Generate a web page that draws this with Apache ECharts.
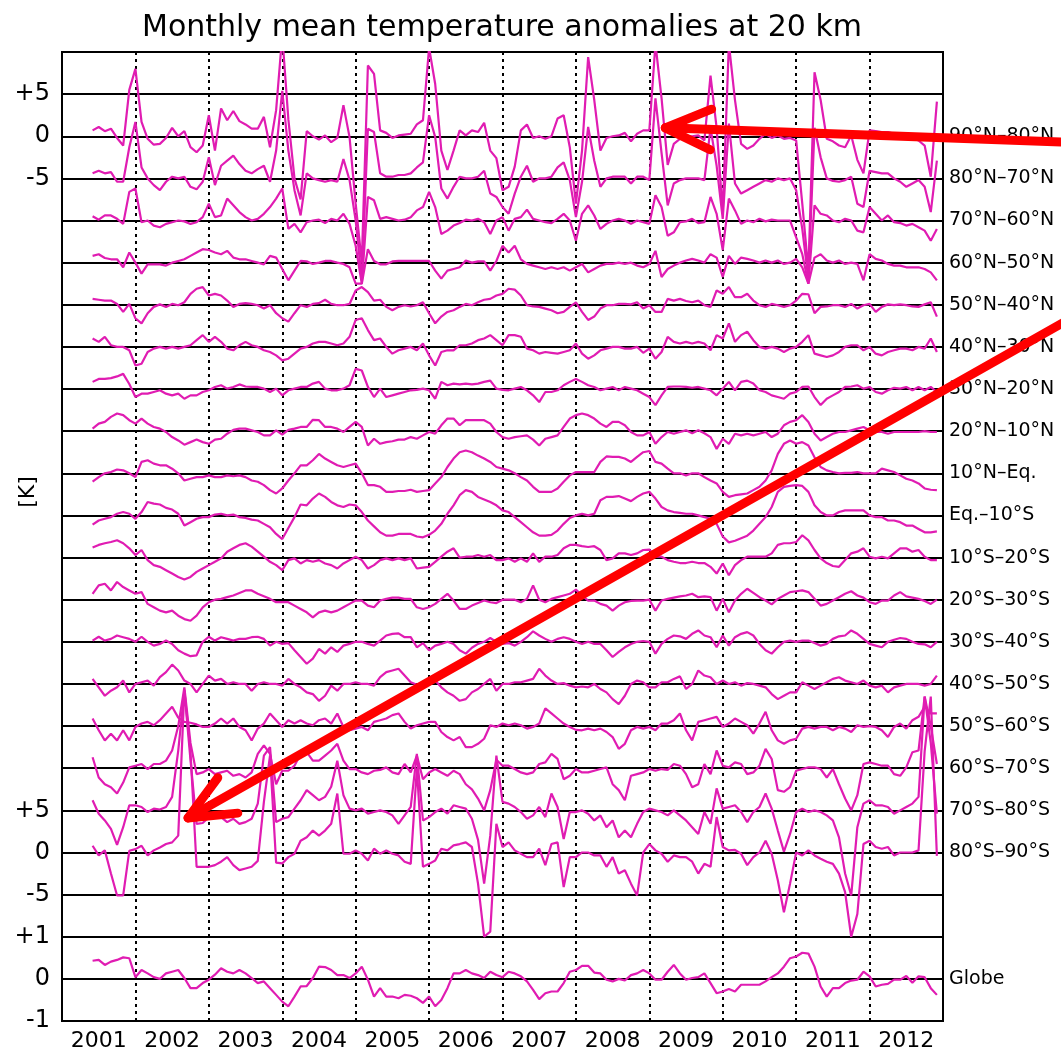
<!DOCTYPE html>
<html>
<head>
<meta charset="utf-8">
<script src="https://cdn.jsdelivr.net/npm/echarts@6/dist/echarts.min.js"></script>
<style>
html, body { margin: 0; padding: 0; background: #fff; }
#chart { width: 1061px; height: 1052px; }
</style>
</head>
<body>
<div id="chart"></div>
<script>
// latitude bands, top to bottom
const bandNames = ['90°N–80°N', '80°N–70°N', '70°N–60°N', '60°N–50°N', '50°N–40°N', '40°N–30°N',
  '30°N–20°N', '20°N–10°N', '10°N–Eq.', 'Eq.–10°S', '10°S–20°S', '20°S–30°S', '30°S–40°S',
  '40°S–50°S', '50°S–60°S', '60°S–70°S', '70°S–80°S', '80°S–90°S'];
const years = ['2001', '2002', '2003', '2004', '2005', '2006', '2007', '2008', '2009', '2010', '2011', '2012'];
// first month with data: June 2001 (months counted from Jan 2001 = 0)
const firstMonth = 5;

// monthly anomalies [K], Jun 2001 .. Dec 2012
const n90_80 = [0.7, 1.1, 0.6, 0.9, -0.2, -1.1, 5.5,
  8.0, 1.7, -0.3, -1.0, -0.9, -0.2, 1.0, 0, 0.6, -1.3, -1.9, -1.1,
  2.5, -1.7, 3.3, 1.9, 3.0, 1.8, 1.4, 0.9, 0.9, 2.3, -1.3, 3.1,
  12, 2, -5, -7.5, 0.6, 0, -0.4, 0.1, -0.7, -0.2, 3.7, -0.1,
  -8, -15, 8.4, 7.4, 0.7, 0.4, -0.2, 0.1, 0.2, 0.3, 1.4, 1.9,
  10.5, 6.2, -1.7, -4.0, -1.7, 0.7, 0.1, 0.7, 0.5, 1.6, -1.7, -2.6,
  -6.4, -6.0, -3.6, 0.7, 1.4, -0.2, 0, -0.3, 0, 2.1, 2.5, -1.3,
  -8, -1.7, 9.4, 4.3, -1.7, -0.2, 0, 0.1, 0.4, -0.6, 0.3, 0.7,
  0.7, 11, 4.5, -3.4, -0.9, -0.3, 0, 0, 0.1, -0.5, 7.2, 1.0,
  -9, 11, 4.3, -0.9, -1.5, -1.1, -0.3, 0.3, -0.2, 0.1, -0.3, -0.2,
  -0.5, -8, -16, 7.6, 4.3, -0.3, -0.6, -1.1, -1.3, 0.1, -2.8, -4.4,
  0.7, 0.6, 0.5, 0.5, 0.3, 0, 0.1, 0, -0.5, -1.1, -4.8, 4.1];
const n80_70 = [0.6, 0.9, 0.6, 0.75, -0.4, -0.4, 3.7,
  6.7, 1.3, 0, -0.8, -1.4, -0.4, 0.2, 0, 0.2, -1.0, -1.3, -0.4,
  2.5, -0.8, 1.5, 2.1, 2.7, 1.7, 0.9, 0.6, 1.1, 1.5, -0.4, 3.3,
  10.4, 3.3, -1.4, -4.4, 0.6, 0, -0.2, -0.4, -0.2, -0.4, 2.3, -0.2,
  -5, -12, 5.9, 5.5, 0.6, 0.2, 0.2, 0.4, 0.4, 0.6, 1.3, 1.9,
  7.5, 4.9, -1.2, -2.4, -1.0, 0.2, 0, 0, 0.2, 0.9, -1.8, -2.2,
  -3.4, -4.2, -1.8, 0.2, 1.5, -0.4, 0, 0, 0.2, 1.3, 1.9, -0.2,
  -4.6, -0.4, 6.1, 2.1, -1.0, 0, 0.2, 0.2, 0.2, -0.6, 0.2, 0.2,
  -0.2, 9.5, 3, -3.2, -0.6, -0.2, 0, 0, 0, -0.2, 6, 1.5,
  -4.8, 6.5, -0.6, -1.8, -1.4, -1.0, -0.6, -0.2, -0.4, 0, -0.2, 0,
  -1.4, -6, -12, 6, 2.5, 0, -0.3, -0.4, -0.2, 0.2, -3.0, -3.4,
  0.9, 0.75, 0.6, 0.6, 0, -0.4, -1.0, -0.6, -0.2, -1.0, -4.0, 2.1];
const n70_60 = [0.5, 0.1, 0.6, 0.6, 0.2, -0.4, 3.4,
  3.8, -0.2, 0, -0.6, -0.8, -0.4, -0.2, 0, -0.1, -0.4, -0.2, 0.4,
  2.0, 0.4, 0.6, 2.6, 1.8, 1.0, 0.4, 0, 0.2, 0.8, 1.6, 2.6,
  3.8, -1.0, -0.4, -1.4, -0.2, 0, 0.1, -0.3, 0.2, 0, 0.8, -0.4,
  -3, -7.5, 2.8, 2.4, 0.2, 0.4, 0.2, 0, 0.1, 0.4, 1.2, 1.6,
  3.4, 1.6, -1.6, -1.2, -0.6, -0.3, 0.1, 0, 0.2, -0.2, -1.6, 0,
  0.4, -1.2, 0.2, 0.4, 1.3, 0.2, 0, -0.2, -0.3, 0.2, 0.8, 0,
  -2.4, 0.8, 1.8, 0.6, -1.0, -0.4, 0, 0.2, 0, -0.4, 0, -0.2,
  -0.4, 3, 1.6, -1.8, -1.4, -0.2, -0.1, 0.2, -0.3, -0.2, 2.8, 0.8,
  -3.5, 2.6, 1.2, -0.4, 0, -0.2, 0.2, -0.1, 0.1, 0, 0, 0,
  -2.0, -4, -7.5, 1.8, 0.8, 0.6, 0, -0.2, 0.2, 0, -1.2, -1.4,
  1.6, 0.8, 0, 0.6, -0.2, -0.3, -0.6, -0.4, -0.8, -1.2, -2.4, -1.0];
const n60_50 = [0.8, 1.0, 0.55, 0.4, 0.4, -0.55, 1.2,
  0, -1.3, -0.2, -0.2, -0.2, -0.35, 0, 0.2, 0.4, 0.8, 1.2, 1.6,
  1.5, 1.2, 1.0, 1.4, 0.6, 0.4, 0.4, 0.2, 0, -0.2, 0.8, 0.6,
  -0.75, -2.1, -0.95, 0.2, 0.15, -0.15, 0, 0.2, 0.2, 0, -0.15, -0.55,
  -2.5, -2.5, 1.6, 0.2, -0.2, -0.2, 0.15, 0.2, 0.2, 0.2, 0.2, 0.2,
  0.2, -0.95, -1.9, -0.95, -0.75, -0.55, 0.25, 0, 0.15, 0.15, -0.95, 0.2,
  2.0, 1.2, 2.0, 0.4, -0.15, -0.35, -0.55, -0.75, -0.55, -0.75, -0.55, -0.95,
  -0.55, -0.15, -1.15, -0.75, -0.35, -0.15, -0.15, 0, -0.15, 0, -0.35, -0.55,
  -0.15, 1.4, -1.7, -0.75, -0.35, 0, 0.25, 0.45, 0.25, 0, 1.0, 0.6,
  -1.7, 0.8, -0.15, 0.6, 0.45, 0.25, 0, 0.25, 0, 0.25, -0.15, 0,
  0.45, -0.55, -2.5, 0.6, 1.0, 0.25, 0, 0.25, -0.15, 0, -0.15, -2.1,
  1.0, 0.45, 0.25, -0.15, -0.35, -0.35, -0.55, -0.55, -0.55, -0.75, -1.15, -2.1];
const n50_40 = [0.7, 0.6, 0.5, 0.5, 0.1, -0.85, 0.1,
  -1.6, -2.2, -1.0, -0.25, 0.05, -0.25, 0.1, -0.05, 0.3, 1.3, 1.9, 2.1,
  1.1, 1.3, 1.1, 0.5, -0.25, 0.1, 0.2, 0.1, -0.05, -0.45, -0.05, -1.0,
  -1.6, -2.0, -1.0, -0.05, -0.25, 0.1, 0.2, 0.6, 0.1, -0.05, -0.05, 0.1,
  1.7, 2.1, 1.5, 0.5, 0.6, -0.25, -0.65, -0.25, -0.05, -0.2, -0.05, 0.3,
  -1.0, -2.2, -1.4, -0.85, -0.65, -0.25, 0.1, -0.05, 0.3, 0.6, 0.7, 1.1,
  1.3, 1.9, 1.8, 1.1, -0.05, -0.2, -0.25, -0.45, -0.65, -1.0, -0.85, -0.25,
  0.3, -0.85, -1.8, -1.4, -0.45, -0.05, -0.05, 0.1, 0.1, 0.05, 0.3, -0.45,
  -0.05, -0.85, -0.85, 0.7, 0.5, 0.7, 0.45, 0.3, 0.5, -0.05, -0.25, 1.7,
  1.3, 2.1, 0.9, 0.9, 1.3, 0.5, -0.05, -0.25, 0.1, -0.05, -0.25, -0.05,
  0.5, 1.3, 1.25, -1.0, -0.25, -0.2, -0.05, -0.05, -0.25, 0.1, -0.45, -0.05,
  0.1, -0.85, -0.25, 0.05, -0.05, 0.05, -0.05, -0.2, -0.25, 0.05, 0.3, -1.4];
const n40_30 = [1.0, 0.6, 1.2, 0.2, 0, 0, -0.4,
  -2.2, -2.0, -0.6, -0.2, 0, -0.2, 0, -0.2, 0, 0.2, 0.8, 1.4,
  0.6, 1.2, 0.6, -0.2, -0.4, 0.2, 0.6, 0.2, 0, -0.4, -0.6, -1.0,
  -1.6, -1.4, -0.8, -0.2, 0, 0.4, 0.6, 0.6, 0.4, 0.2, 0.4, 1.2,
  3.2, 3.4, 2.0, 0.8, 1.0, 0, -0.8, -0.4, -0.2, 0, -0.4, 0.4,
  -1.0, -2.2, -0.6, -0.4, -0.4, 0.2, 0.2, 0.4, 0.8, 1.0, 1.4, 0.8,
  0.2, 1.4, 1.4, 1.2, -0.2, -0.4, -0.8, -0.6, -0.7, -0.8, -0.6, -0.4,
  0.4, -0.8, -1.4, -1.0, -0.4, -0.2, 0, 0, -0.2, -0.2, 0, -0.7,
  -0.2, -1.4, -0.6, 1.2, 0.6, 0.4, 0.6, 0.4, 0.6, 0.4, -0.4, 1.4,
  1.0, 2.8, 0.6, 1.4, 1.8, 0.8, 0, -0.2, 0, -0.2, -0.6, -0.2,
  0, 0.6, 1.4, -0.8, -1.0, -1.2, -1.0, -0.6, 0, 0.2, 0.2, -0.4,
  0, -0.8, -1.0, -0.6, -0.4, -0.2, -0.2, -0.4, 0, -0.2, 1.0, -0.6];
const n30_20 = [0.85, 1.2, 1.2, 1.3, 1.5, 1.8, 0.6,
  -0.95, -0.55, -0.55, -0.35, -0.15, -0.55, -0.75, -0.55, -1.15, -0.75, -0.75, -0.35,
  -0.15, 0.25, 0.45, 0.05, 0.25, 0.55, 0.3, 0.25, 0.25, 0.05, -0.35, 0.05,
  -0.75, -0.15, 0.05, 0.25, 0.25, 0.65, 0.85, 0.05, -0.15, -0.15, 0.05, 0.45,
  2.4, 2.2, 0.25, -0.95, 0.05, -0.95, -0.75, -0.55, -0.35, -0.15, -0.1, 0.05,
  -0.15, -1.15, 0.85, 0.45, 0.65, 0.55, 0.65, 0.55, 0.65, 0.85, 1.0, 0.05,
  -0.1, -0.15, 0.05, 0.25, -0.15, -0.75, -1.55, -0.35, -0.35, -0.15, 0.45, 0.85,
  1.2, 0.85, 0.45, 0.25, -0.15, 0.05, 0.25, -0.15, 0.25, 0.05, -0.15, -0.55,
  -0.95, -1.9, -0.75, 0.25, 0.3, 0.3, 0.25, 0.15, 0.25, 0.05, -0.15, -0.75,
  0.05, 0.85, -0.15, 0.85, 1.0, 0.65, -0.15, -0.35, -0.75, -0.95, -1.15, -0.55,
  -0.35, 0.25, 0.3, -0.95, -1.9, -1.15, -0.75, -0.35, 0.25, 0.3, 0.45, 0.05,
  0.25, -0.35, -0.55, -0.15, 0.15, 0.05, 0.25, -0.15, 0.25, -0.15, 0.25, -0.35];
const n20_10 = [0.3, 0.9, 1.1, 1.7, 2.1, 1.9, 1.3,
  0.9, 1.5, 0.9, 0.5, 0.3, -0.1, -0.7, -1.1, -1.6, -1.3, -1.0, -1.3,
  -1.5, -1.0, -0.9, -0.3, 0.15, 0.3, 0.3, 0.1, -0.1, -0.5, -0.5, 0.1,
  -0.4, 0.15, 0.3, 0.5, 0.5, 1.35, 1.3, 0.5, 0.5, 0.3, -0.1, 0.5,
  1.1, 0.5, -1.7, -0.9, -1.5, -1.3, -1.2, -1.0, -1.0, -0.7, -0.9, -0.5,
  -0.1, -0.3, 0.7, 1.5, 1.5, 0.7, 1.3, 1.3, 1.3, 1.3, 0.9, -0.1,
  -0.7, -0.9, -0.7, -0.6, -0.5, -1.0, -1.7, -0.9, -0.7, -0.5, 0.5, 1.5,
  1.9, 2.1, 1.9, 1.5, 0.9, 0.5, 1.1, 1.1, 0.7, -0.1, -0.5, -0.5,
  -0.1, -1.5, -0.7, -0.1, -0.3, -0.1, 0.1, -0.25, 0.1, -0.25, -0.7, -2.1,
  -0.9, -1.5, -0.3, -0.5, -0.3, -0.5, -0.3, -0.1, -0.7, -0.3, 0.7, 1.1,
  1.3, 1.9, 1.1, -0.3, -1.1, -0.7, -0.3, -0.1, -0.1, 0.1, 0.3, 0.5,
  0.1, -0.1, -0.1, -0.3, -0.1, -0.1, -0.1, -0.1, -0.1, 0, -0.1, -0.1];
const n10_eq = [-1.0, -0.45, 0, 0.15, 0.45, 0.35, 0,
  -0.45, 1.35, 1.55, 1.15, 0.95, 0.95, 0.55, 0, -0.85, -0.65, -0.45, -0.45,
  -0.25, -0.45, -0.45, -0.25, -0.35, -0.25, -0.45, -0.85, -1.0, -1.4, -2.0, -2.4,
  -1.8, -0.85, 0, 0.95, 0.95, 1.55, 2.3, 1.75, 1.35, 0.95, 0.75, 0.95,
  1.15, 0, -1.4, -1.4, -1.6, -2.2, -2.2, -2.1, -2.1, -1.95, -2.2, -2.1,
  -2.0, -1.2, -0.45, 0.75, 1.75, 2.5, 2.7, 2.5, 2.1, 1.75, 1.35, 0.75,
  0.55, 0.35, 0, -0.45, -0.85, -1.6, -2.2, -2.2, -2.2, -1.8, -1.0, -0.25,
  0.15, 0.15, 0.15, 0.15, 1.35, 2.0, 1.95, 1.95, 1.75, 1.35, 1.95, 2.5,
  2.65, 1.35, 1.15, 0.55, 0, 0, -0.25, 0, 0, -0.45, -0.85, -1.2,
  -2.2, -2.8, -2.6, -2.5, -2.4, -2.0, -1.6, -0.85, 0.35, 2.3, 3.5, 3.9,
  3.5, 3.7, 3.3, 1.9, 0.75, 0.35, 0.15, 0, 0.05, 0.05, 0.15, 0,
  0, 0, 0.55, 0.35, 0.15, -0.25, -0.65, -0.85, -1.2, -1.8, -1.95, -2.0];
const eq_10s = [-1.1, -0.6, -0.4, -0.2, 0.2, 0.4, 0.2,
  -0.4, 0.4, 1.6, 1.4, 1.3, 0.9, 0.7, 0.2, -1.2, -0.8, -0.4, -0.2,
  -0.2, 0.1, 0.2, 0, 0.1, -0.2, -0.3, -0.5, -0.6, -1.0, -1.4, -2.2,
  -2.8, -1.5, -0.2, 1.3, 1.2, 2.0, 2.6, 2.2, 1.6, 1.2, 1.0, 1.3,
  1.2, 0.4, -0.6, -1.3, -2.0, -2.4, -2.4, -2.2, -2.2, -2.2, -2.5, -2.6,
  -2.3, -1.8, -1.0, 0.2, 1.2, 2.4, 3.0, 2.8, 2.2, 1.9, 1.6, 1.2,
  0.6, 0.4, -0.2, -0.8, -1.4, -2.0, -2.4, -2.4, -2.3, -1.8, -1.0, -0.3,
  0, 0.2, 0, 0.2, 1.8, 2.2, 2.2, 2.3, 2.0, 1.7, 2.2, 2.6,
  2.8, 2.0, 1.0, 0.6, 0.4, 0.3, 0.2, 0.2, 0, -0.2, -0.4, -1.0,
  -2.5, -3.2, -3.0, -2.7, -2.4, -1.8, -1.0, -0.2, 1.0, 2.8, 3.4, 3.5,
  3.6, 3.5, 2.8, 1.2, 0.4, 0, 0, 0.4, 0.6, 0.6, 0.6, 0.6,
  0, -0.2, -0.2, -0.6, -0.6, -0.8, -1.2, -1.2, -1.6, -2.0, -2.0, -1.9];
const s10_20 = [1.2, 1.5, 1.7, 1.85, 2.05, 1.7, 1.1,
  0.3, 0.9, -0.3, -0.9, -1.1, -1.5, -1.9, -2.3, -2.6, -2.3, -1.7, -1.3,
  -0.9, -0.5, -0.1, 0.7, 1.1, 1.5, 1.7, 1.3, 0.7, 0.1, -0.5, -0.9,
  -1.5, -0.3, -0.1, -0.7, -0.3, -0.5, -0.3, -0.7, -0.9, -1.3, -0.7, -0.3,
  0.1, -0.3, -1.3, -0.9, -0.3, -0.1, -0.3, -0.1, -0.3, -0.1, -1.3, -1.2,
  -1.1, -0.5, 0.1, 0.7, 1.1, 0, 0.1, 0.1, 0.3, 0.1, 0.3, -0.3,
  -0.3, -0.1, -0.5, -0.1, -0.5, 0.5, -0.5, 0.1, 0.1, 0.3, 1.1, 1.5,
  1.5, 1.35, 1.25, 1.35, 0.9, -0.3, -0.1, 0.5, 0.5, 0.3, 0.5, 0.9,
  0.95, 0.1, 0.1, -0.3, -0.5, -0.65, -0.65, -0.5, -0.65, -0.65, -1.1, -1.9,
  -0.7, -2.1, -0.9, -0.3, 0.1, 0.1, 0.1, 0.1, 0.5, 1.5, 1.7, 1.7,
  1.85, 2.65, 2.05, 0.9, -0.1, -0.65, -1.0, -1.1, -0.3, 0.5, 0.7, 1.1,
  0.1, -0.1, 0.1, -0.1, 0.5, 1.1, 1.1, 0.7, 0.9, 0.1, -0.3, -0.3];
const s20_30 = [0.7, 1.7, 1.9, 1.1, 2.1, 1.5, 1.1,
  0.7, 0.9, -0.5, -0.9, -1.3, -1.5, -1.3, -1.9, -2.3, -2.5, -1.9, -0.9,
  -0.3, 0, 0.1, 0.3, 0.5, 0.8, 1.1, 1.1, 0.7, 0.4, 0.1, -0.3,
  -0.3, -0.3, -0.7, -1.1, -1.5, -2.1, -1.5, -1.3, -1.5, -1.3, -0.9, -0.5,
  -0.1, -0.1, -0.7, -0.9, -0.1, 0.1, 0.25, 0.25, 0.1, 0.1, -0.9, -1.1,
  -0.9, -0.5, 0.1, 0.7, -0.1, -1.1, -1.1, -0.7, -0.4, -0.1, -0.3, -0.4,
  0, 0, 0, -0.3, 0.1, 1.7, 0, -0.3, 0.1, 0.3, 0.5, 0.7,
  1.2, 0.5, -0.1, -0.1, -0.5, -0.7, -1.3, -0.7, -0.3, -0.15, -0.1, -0.1,
  0, -1.3, -0.1, 0.1, 0.25, 0.4, 0.5, 0.7, 0.3, 0.4, 0.3, -1.3,
  0.1, -1.5, -0.1, 0.7, 1.3, 0.8, 0.3, -0.1, -0.55, 0.1, 0.5, 0.9,
  1.0, 1.1, 0.9, 0.1, -0.7, -0.5, -0.1, 0.3, 0.7, 1.0, 0.5, 0.25,
  -0.3, -0.5, -0.1, -0.1, 0.5, 0.9, 0.4, 0.25, 0.1, -0.15, -0.5, 0];
const s30_40 = [0.15, 0.6, 0.15, 0.35, 0.75, 0.55, 0.35,
  0, 0.6, 0, -0.45, -0.25, 0.15, -0.25, -1.0, -1.4, -1.7, -1.6, 0,
  0.6, 0.15, 0.55, 0.35, 0.15, 0.35, 0.35, 0.55, 0.6, 0.35, -0.45, 0,
  -0.25, -0.15, -1.0, -1.8, -2.6, -2.0, -0.85, -1.4, -0.65, -1.2, -0.45, -0.25,
  0, 0, -0.25, -0.45, 0.15, 0.75, 0.95, 1.0, 0.55, 0.55, -0.65, -0.15,
  -1.0, -0.45, -0.25, 0, -0.25, -1.0, -1.4, -0.7, -0.25, 0, 0.45, 0,
  -0.25, -0.15, -0.45, 0, 0.55, 1.25, 0.75, 0.35, 0, 0.35, 0.55, 0.35,
  0, -0.25, 0, -0.25, -0.25, -1.0, -1.8, -1.2, -0.65, -0.25, 0, 0.1,
  0, -1.4, -0.25, 0.35, 0.75, 0.65, 0.35, 0.95, 1.35, 0.75, 0.55, -0.65,
  0.75, -0.45, 0.55, 0.95, 1.15, 0.75, -0.25, -1.0, -1.4, -0.65, 0, 0.15,
  0, 0.15, 0.15, -0.15, -0.45, -0.25, 0.35, 0.65, 0.75, 1.35, 0.95, 0.35,
  -0.25, -0.45, -0.65, 0, 0.25, 0.45, 0.35, 0, -0.25, -0.3, -0.65, 0];
const s40_50 = [0.6, -0.4, -1.4, -0.8, -0.4, 0.4, -1.0,
  0, 0.2, 0.4, -0.2, 0.8, 1.4, 2.3, 1.6, 0.4, 0, -1.0, 0,
  1.0, 0.4, 0.6, 0, 0.2, 0, 0, -0.8, 0, 0.2, 0, 0,
  -0.2, 0.6, 0, -0.4, -1.0, -1.2, -2.0, -1.4, -0.2, -0.8, 0, 0,
  0.2, 0, 0, -0.2, 0.8, 1.4, 1.6, 1.8, 1.0, 0.2, -0.1, 0,
  0.6, 0.4, -0.4, -1.0, -1.4, -2.0, -1.8, -1.0, -0.6, 0, 0.6, -0.8,
  0, 0, 0.2, 0.2, 0.4, 0.6, 1.8, 1.0, 0.4, 0, 0.1, -0.2,
  -0.4, -0.3, -0.4, 0, -0.6, -1.0, -1.8, -2.4, -1.4, 0, 0.4, 0.2,
  -0.4, -0.4, 0.2, 0.2, 0.6, 0.9, -0.6, 0, 1.6, 1.0, 0.8, 0,
  0.4, 0, 0.2, -0.2, 0.1, 0, -0.2, -0.4, -1.2, -1.8, -1.4, -1.0,
  -1.0, 0.2, -0.2, -0.6, -0.2, 0.2, 0.6, 0.8, 0.4, 0.2, 0, 0.4,
  -0.2, -0.4, -0.2, -1.0, -0.4, -0.2, 0, 0, 0, -0.2, 0, 1.0];
const s50_60 = [0.9, -0.5, -1.7, -0.9, -1.7, -0.5, -1.7,
  -0.1, 0.3, 0.5, 0.1, 0.7, 1.5, 2.3, 1.0, 0.5, 0.4, 0.2, -0.1,
  -0.1, 0.3, 0.9, 0.3, 0.9, -0.1, -0.5, -1.7, -0.3, 0.3, 1.5, 0.7,
  -0.1, 0.7, 0.3, 0.7, 0.3, 0.1, 0.7, 0.9, 0.3, 1.5, -0.1, -0.5,
  -0.3, -0.1, -0.5, 0.5, 0.7, 0.9, 1.3, 1.5, 0.5, -0.3, 0.1, 0.3,
  0.5, 0.5, -0.7, -1.3, -1.7, -1.3, -2.5, -2.5, -2.1, -1.5, 0.1, -0.1,
  0.3, 0.1, 0.3, 0.1, -0.3, -0.1, 0.3, 2.1, 1.5, 0.9, 0.3, -0.1,
  -0.45, -0.5, -0.3, -0.5, -0.3, -0.7, -1.3, -2.7, -2.1, -0.5, -0.1, -0.3,
  -0.1, -0.5, 0.3, 0.3, 0.7, 1.5, -0.5, -1.7, 0.5, 0.7, 0.9, 1.1,
  -0.1, 0.3, 0.9, 0.5, 0.1, -0.9, 0.3, 1.7, -0.5, -1.7, -2.1, -1.7,
  -1.5, -0.3, -0.1, -0.3, -0.1, -0.1, -0.5, -0.1, -0.3, -0.7, 0.1, -0.1,
  0, -0.1, -0.5, -1.3, -0.1, 0.3, -0.3, 0.7, 1.1, 2.3, 1.5, 1.5];
const s60_70 = [1.3, -1.1, -1.9, -2.25, -3.0, -1.7, 0.1,
  0.3, 0.5, -0.1, 0.5, 0.5, 0.9, 2.1, 5, 9.6, 3, -0.7, -0.5,
  -0.1, -0.7, -0.5, -0.3, -0.9, -0.7, -1.1, -0.5, 1.7, 2.7, 1.7, -1.9,
  -0.3, -0.3, 0.3, 1.7, 1.9, 0.9, 0.9, 1.5, 2.1, 2.9, 0.9, -0.1,
  -0.1, -0.5, -0.7, -0.3, -0.2, 0.1, -0.5, -0.7, 0.5, -0.5, 1.5, -1.3,
  -0.5, -0.1, -0.5, -0.9, -0.3, -0.7, -1.9, -2.5, -3.6, -5.0, -2.6, 1.0,
  0.3, 0.3, -0.1, -0.5, -0.7, -0.5, 0.5, 0.7, 1.7, 1.1, -1.3, -0.9,
  -0.1, -0.5, -0.5, -0.3, -0.1, 0.1, -1.9, -2.6, -3.8, -0.9, -0.7, -0.5,
  -0.1, -0.3, -0.1, -0.2, 0.5, 0.3, -0.7, -2.25, -1.9, 0.5, -0.7, 2.1,
  0.3, 0.1, 0.7, 0.5, -0.7, -0.5, 0.3, 2.3, 1.1, -2.6, -2.8, -2.25,
  -0.3, -0.1, 0.1, 0.1, -0.1, -1.1, -0.1, -1.9, -3.6, -5.0, -3.2, 0.5,
  0.7, 0.5, 0.3, 0.3, -0.7, -0.9, 0.1, 1.9, 2.1, 8.5, 5, 0.5];
const s70_80 = [1.2, -0.4, -1.2, -2.2, -4.1, -2.0, 0.6,
  0.6, 0.4, -0.2, 0.2, 0.1, 0.4, 1.6, 7.1, 14.2, 6, -1.6, -1.5,
  -0.8, -0.6, -0.8, -1.4, -1.0, -1.6, -1.4, -1.0, 0.8, 6.5, 7.5, -1.4,
  -1.0, -0.8, 0.2, 1.2, 2.4, 1.8, 1.2, 1.6, 2.8, 5.9, 1.8, 0.2,
  0, 0.2, -0.4, -0.2, 0, -0.2, -0.6, -1.6, -0.6, 0.4, 6.7, -1.2,
  -0.8, -0.2, 0.2, -0.4, 0.6, 0.4, 0.2, -1.0, -3.5, -8.7, -3, 6.5,
  1.0, 0.8, 0.4, -0.2, -1.0, -0.6, 0.4, -0.8, 2.0, 0.4, -3.4, -0.2,
  -0.2, 0, -0.4, -1.2, -0.6, -2.0, -1.2, -3.2, -2.4, -3.2, -1.6, -0.2,
  0.2, 0, -0.2, -0.6, 0, -0.6, -1.2, -2.0, -2.8, -0.2, -1.6, 2.6,
  0.2, 0.4, 0.6, -0.2, -1.4, -0.2, 0.4, 2.0, 0.2, -2.4, -4.9, -2.8,
  -0.2, 0.2, -0.2, 0, -0.2, -0.6, -1.2, -3.2, -7.5, -10.1, -2.0, 0.8,
  1.2, 0.6, 0.6, 0.4, -0.4, 0, 0.4, 0.8, 1.6, 13.5, 8, -0.4];
const s80_90 = [0.8, -0.35, 0.25, -2.5, -5.1, -5.1, 0.2,
  0.4, 0.8, -0.35, 0.25, 0.6, 1.0, 1.2, 2.0, 19.3, 12, -1.7, -1.7,
  -1.7, -1.5, -1.1, -0.55, -1.5, -2.1, -1.9, -1.7, -1.0, 6, 11.5, -1.2,
  -1.3, -0.55, -0.15, 1.4, 1.8, 2.6, 2.0, 2.6, 3.4, 7.0, -0.15, -0.15,
  0.25, -0.15, -0.95, 0.45, -0.15, 0.25, -0.15, -0.35, -1.1, -1.35, 10, -1.7,
  -1.35, -0.95, 0.45, 0.25, 0.85, 1.0, 1.2, 0.65, -3.7, -10.0, -9.4, 3.4,
  0.65, 1.2, 0.25, -0.15, -0.55, -0.55, 0.45, -1.5, 1.0, 1.2, -4.1, -0.55,
  -0.55, 0, 0, -0.35, -0.35, -1.7, -0.55, -2.5, -2.1, -3.7, -5.1, 0,
  1.0, 0.25, -0.15, -1.1, -0.35, -0.55, -0.55, -1.1, -2.5, -1.35, -1.7, 4.2,
  0.65, 0.25, 0.3, -0.15, -1.5, -0.55, 0, 1.4, -0.15, -3.3, -7.1, -3.7,
  0, -0.35, 0.25, -0.35, -0.75, -1.1, -1.35, -2.5, -4.7, -10.0, -7.3, 1.0,
  1.4, 0.65, 0.45, 0.65, -0.35, 0, 0, 0, 0.25, 12, 18.5, -0.4];
const globe = [0.43, 0.45, 0.33, 0.41, 0.45, 0.51, 0.49,
  0.04, 0.21, 0.13, 0.04, 0, 0.13, 0.17, 0.21, 0.02, -0.22, -0.22, -0.1,
  -0.02, 0.1, 0.25, 0.17, 0.13, 0.21, 0.13, 0.02, -0.1, -0.06, -0.22, -0.38,
  -0.54, -0.65, -0.42, -0.18, -0.17, 0.02, 0.29, 0.28, 0.21, 0.09, 0.09, 0.02,
  0.13, 0.29, -0.02, -0.42, -0.22, -0.42, -0.42, -0.46, -0.38, -0.4, -0.46, -0.57,
  -0.42, -0.65, -0.5, -0.22, 0.13, 0.13, 0.21, 0.13, 0.09, 0.02, 0.17, 0.09,
  0.04, 0.17, 0.13, 0.06, -0.06, -0.26, -0.48, -0.34, -0.3, -0.3, -0.1, 0.17,
  0.21, 0.31, 0.31, 0.15, 0.13, -0.02, -0.06, 0, -0.04, 0.09, 0.13, 0.21,
  0.13, -0.02, -0.02, 0.17, 0.33, 0.13, -0.02, 0.02, 0.04, 0.13, -0.1, -0.34,
  -0.3, -0.24, -0.3, -0.14, -0.14, -0.14, -0.14, -0.06, 0.04, 0.13, 0.29, 0.49,
  0.53, 0.62, 0.6, 0.29, -0.18, -0.42, -0.22, -0.22, -0.1, -0.04, -0.02, 0.17,
  0.06, -0.18, -0.14, -0.12, -0.02, -0.02, 0.07, -0.09, 0.06, 0.04, -0.22, -0.38];

const bands = [n90_80, n80_70, n70_60, n60_50, n50_40, n40_30, n30_20, n20_10, n10_eq,
  eq_10s, s10_20, s20_30, s30_40, s40_50, s50_60, s60_70, s70_80, s80_90];

// each band sits 5 K lower than the one above; the globe panel is scaled x5
const bandStep = 5;
const globeBase = -100;
const globeScale = 5;

const leftLabels = { '5': '+5', '0': '0', '-5': '-5', '-80': '+5', '-85': '0', '-90': '-5',
  '-95': '+1', '-100': '0', '-105': '-1' };

const lineColor = '#e01cb2';
const font = 'DejaVu Sans';

const chart = echarts.init(document.getElementById('chart'));

const series = bands.map((arr, i) => ({
  type: 'line',
  name: bandNames[i],
  showSymbol: false,
  lineStyle: { color: lineColor, width: 2.2 },
  data: arr.map((v, k) => [firstMonth + k, v - bandStep * i])
}));
series.push({
  type: 'line',
  name: 'Globe',
  showSymbol: false,
  lineStyle: { color: lineColor, width: 2.2 },
  data: globe.map((v, k) => [firstMonth + k, globeBase + v * globeScale])
});

chart.setOption({
  animation: false,
  backgroundColor: '#fff',
  grid: { left: 62, right: 118, top: 52, bottom: 31, show: true, borderColor: '#000', borderWidth: 2, backgroundColor: 'transparent' },
  xAxis: [{
    type: 'value', min: 0, max: 144, interval: 12,
    axisLine: { show: false }, axisTick: { show: false }, axisLabel: { show: false },
    splitLine: { show: true, lineStyle: { color: '#000', width: 2, type: [3, 4] } }
  }, {
    type: 'value', min: 0, max: 144, interval: 6, position: 'bottom',
    axisLine: { show: false }, axisTick: { show: false }, splitLine: { show: false },
    axisLabel: {
      show: true, margin: 9, fontFamily: font, fontSize: 22, color: '#000',
      formatter: v => (v % 12 === 6 ? years[(v - 6) / 12] : '')
    }
  }],
  yAxis: [{
    type: 'value', min: -105, max: 10, interval: 5,
    axisLine: { show: false }, axisTick: { show: false },
    splitLine: { show: true, lineStyle: { color: '#000', width: 2 } },
    axisLabel: {
      margin: 12, fontFamily: font, fontSize: 24, color: '#000',
      formatter: v => leftLabels[String(v)] || ''
    }
  }, {
    type: 'value', min: -105, max: 10, interval: 5, position: 'right',
    axisLine: { show: false }, axisTick: { show: false }, splitLine: { show: false },
    axisLabel: {
      margin: 6, align: 'left', fontFamily: font, fontSize: 19, color: '#000',
      formatter: v => {
        if (v === globeBase) return 'Globe';
        const i = -v / bandStep;
        return (v <= 0 && i < bandNames.length) ? bandNames[i] : '';
      }
    }
  }],
  series: series
});

// red annotation arrows, tips anchored in data space
function arrow(tip, tail) {
  const dx = tail[0] - tip[0], dy = tail[1] - tip[1];
  const ang = Math.atan2(dy, dx);
  const len = 50, spread = 24 * Math.PI / 180;
  const a1 = [tip[0] + len * Math.cos(ang - spread), tip[1] + len * Math.sin(ang - spread)];
  const a2 = [tip[0] + len * Math.cos(ang + spread), tip[1] + len * Math.sin(ang + spread)];
  const style = { stroke: '#ff0000', lineWidth: 9, lineCap: 'round', lineJoin: 'round', fill: null };
  return [
    { type: 'polyline', z: 100, shape: { points: [tail, tip] }, style: style },
    { type: 'polyline', z: 100, shape: { points: [a1, tip, a2] }, style: style }
  ];
}
const tip1 = chart.convertToPixel({ xAxisIndex: 0, yAxisIndex: 0 }, [98.6, 1.0]);
const tip2 = chart.convertToPixel({ xAxisIndex: 0, yAxisIndex: 0 }, [20.6, -80.9]);

chart.setOption({
  graphic: [
    {
      type: 'text', x: 502, y: 28, z: 100,
      style: { text: 'Monthly mean temperature anomalies at 20 km', font: '30px "DejaVu Sans"', fill: '#000', textAlign: 'center', textVerticalAlign: 'middle' }
    },
    {
      type: 'text', x: 28, y: 492, rotation: Math.PI / 2, z: 100,
      style: { text: '[K]', font: '22px "DejaVu Sans"', fill: '#000', textAlign: 'center', textVerticalAlign: 'middle' }
    }
  ].concat(arrow(tip1, [1075, 142.5])).concat(arrow(tip2, [1075, 316]))
});

window.onresize = function () { chart.resize(); };
</script>
</body>
</html>
